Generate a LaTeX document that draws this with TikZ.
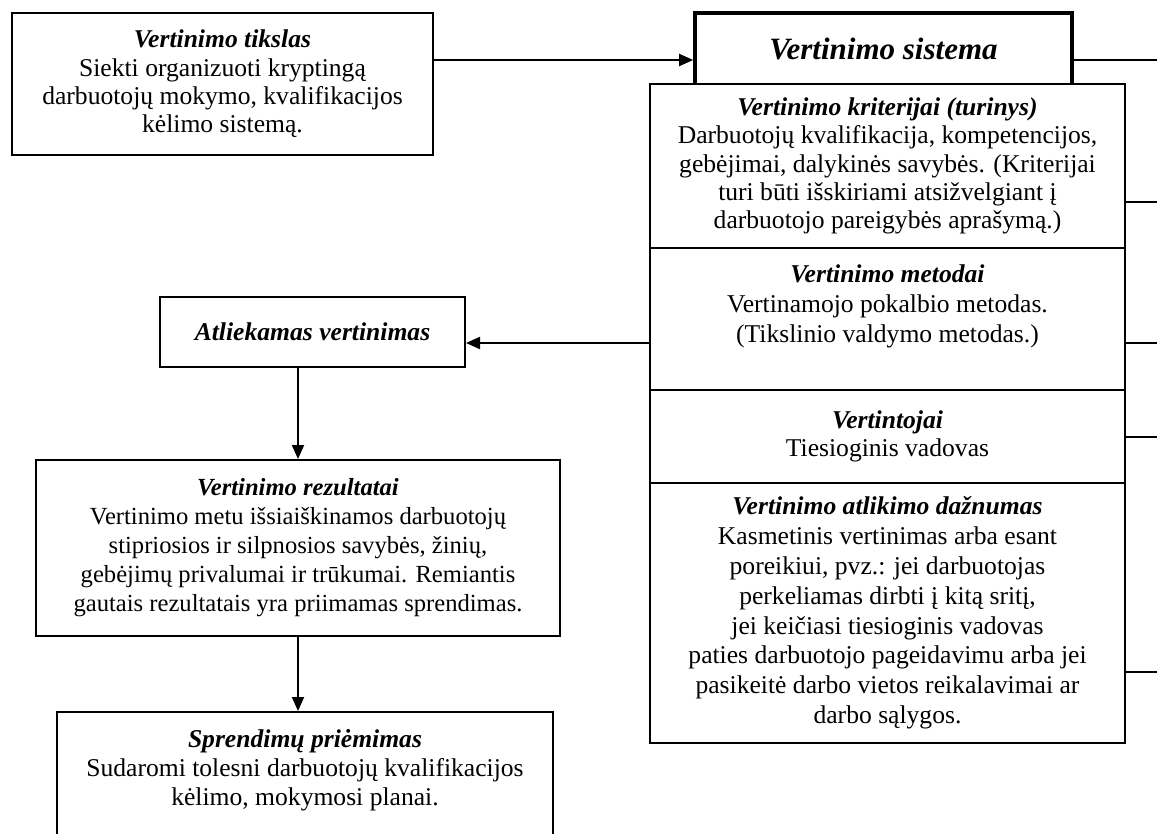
\documentclass[tikz,border=0pt]{standalone}
\usepackage{fontspec}
\setmainfont{Liberation Serif}
\usetikzlibrary{arrows.meta,positioning,calc}

\newcommand{\ttl}[1]{\textbf{\textit{#1}}}

\begin{document}
\begin{tikzpicture}[x=0.5pt, y=-0.5pt,
    blk/.style={draw, line width=1pt, fill=white, align=center, inner sep=2pt, font=\fontsize{12.8}{14.2}\selectfont},
    head/.style={blk, line width=1.8pt, font=\fontsize{15.5}{18}\selectfont\bfseries\itshape},
    arrow/.style={-{Triangle[length=7pt,width=6pt]}, line width=1pt},
    stub/.style={line width=1pt}
]
\useasboundingbox (0,0) rectangle (1157,834);
\clip (0,0) rectangle (1157,834);

% left column
\node[blk, minimum width=210.5pt, minimum height=71pt] (tikslas) at (222.5,84) {
  \ttl{Vertinimo tikslas}\\
  Siekti organizuoti kryptingą\\
  darbuotojų mokymo, kvalifikacijos\\
  kėlimo sistemą.
};
\node[blk, minimum width=152.5pt, minimum height=35pt] (atl) at (312.5,332) {\ttl{Atliekamas vertinimas}};
\node[blk, minimum width=262pt, minimum height=88pt, font=\fontsize{12.3}{14.5}\selectfont] (rez) at (298,548) {
  \ttl{Vertinimo rezultatai}\\
  Vertinimo metu išsiaiškinamos darbuotojų\\
  stipriosios ir silpnosios savybės, žinių,\\
  gebėjimų privalumai ir trūkumai. Remiantis\\
  gautais rezultatais yra priimamas sprendimas.
};
\node[blk, minimum width=248pt, minimum height=84pt, font=\fontsize{12.8}{14.5}\selectfont] (spr) at (305,796) {
  \ttl{Sprendimų priėmimas}\\
  Sudaromi tolesni darbuotojų kvalifikacijos\\
  kėlimo, mokymosi planai.\\
  \mbox{}\\
  \mbox{}
};

% right column
\node[head, minimum width=188.5pt, minimum height=36pt] (sistema) at (883.5,49) {Vertinimo sistema};
\node[blk, minimum width=237.5pt, minimum height=82pt] (kriterijai) at (887.5,166) {
  \ttl{Vertinimo kriterijai (turinys)}\\
  Darbuotojų kvalifikacija, kompetencijos,\\
  gebėjimai, dalykinės savybės. (Kriterijai\\
  turi būti išskiriami atsižvelgiant į\\
  darbuotojo pareigybės aprašymą.)
};
\node[blk, minimum width=237.5pt, minimum height=71pt, font=\fontsize{12.8}{15}\selectfont] (metodai) at (887.5,319) {
  \ttl{Vertinimo metodai}\\
  Vertinamojo pokalbio metodas.\\
  (Tikslinio valdymo metodas.)\\
  \mbox{}
};
\node[blk, minimum width=237.5pt, minimum height=46.5pt] (vertintojai) at (887.5,436.5) {
  \ttl{Vertintojai}\\
  Tiesioginis vadovas
};
\node[blk, minimum width=237.5pt, minimum height=130pt, font=\fontsize{12.8}{14.9}\selectfont] (daznumas) at (887.5,613) {
  \ttl{Vertinimo atlikimo dažnumas}\\
  Kasmetinis vertinimas arba esant\\
  poreikiui, pvz.: jei darbuotojas\\
  perkeliamas dirbti į kitą sritį,\\
  jei keičiasi tiesioginis vadovas\\
  paties darbuotojo pageidavimu arba jei\\
  pasikeitė darbo vietos reikalavimai ar\\
  darbo sąlygos.
};

% lines leaving to the right
\coordinate (busA) at (1160,60);
\coordinate (busB) at (1160,202);
\coordinate (busC) at (1160,343);
\coordinate (busD) at (1160,437);
\coordinate (busE) at (1160,672);

\draw[stub] (busA -| sistema.east) -- (busA);
\draw[stub] (busB -| kriterijai.east) -- (busB);
\draw[stub] (busC -| metodai.east) -- (busC);
\draw[stub] (busD -| vertintojai.east) -- (busD);
\draw[stub] (busE -| daznumas.east) -- (busE);

\draw[arrow] (busA -| tikslas.east) -- (busA -| sistema.west);
\draw[arrow] (busC -| metodai.west) -- (busC -| atl.east);
\draw[arrow] (rez.north |- atl.south) -- (rez.north);
\draw[arrow] (rez.south) -- (rez.south |- spr.north);

\end{tikzpicture}
\end{document}
